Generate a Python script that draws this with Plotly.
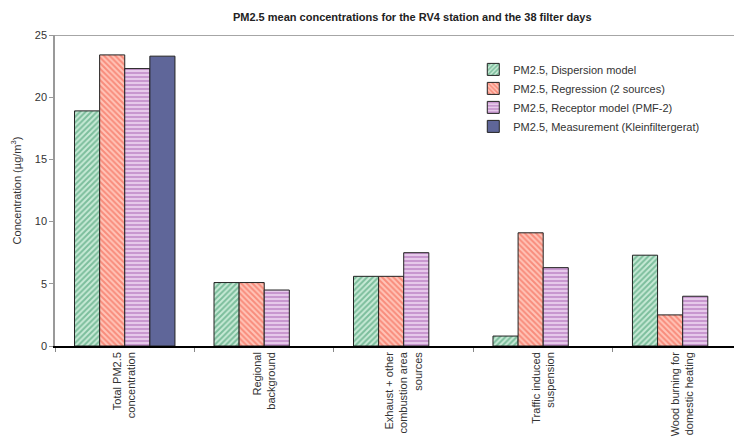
import plotly.graph_objects as go

categories = ["Total PM2.5<br>concentration", "Regional<br>background",
              "Exhaust + other<br>combustion area<br>sources", "Traffic induced<br>suspension",
              "Wood burning for<br>domestic heating"]
dispersion = [18.9, 5.1, 5.6, 0.8, 7.3]
regression = [23.4, 5.1, 5.6, 9.1, 2.5]
receptor = [22.3, 4.5, 7.5, 6.3, 4.0]
measurement = [23.3, None, None, None, None]
series_names = ["PM2.5, Dispersion model", "PM2.5, Regression (2 sources)",
                "PM2.5, Receptor model (PMF-2)", "PM2.5, Measurement (Kleinfiltergerat)"]
yticks = [0, 5, 10, 15, 20, 25]

fig = go.Figure()
fig.add_bar(x=categories, y=dispersion, name=series_names[0],
            marker=dict(color="#bfe3cf", line=dict(color="#222", width=1),
                        pattern=dict(shape="/", fgcolor="#2f9162", bgcolor="#c8ead6", size=4, solidity=0.5)))
fig.add_bar(x=categories, y=regression, name=series_names[1],
            marker=dict(color="#ffc0b4", line=dict(color="#222", width=1),
                        pattern=dict(shape="\\", fgcolor="#f2543f", bgcolor="#ffc4b8", size=4, solidity=0.5)))
fig.add_bar(x=categories, y=receptor, name=series_names[2],
            marker=dict(color="#d8b0df", line=dict(color="#222", width=1),
                        pattern=dict(shape="-", fgcolor="#9c4aa8", bgcolor="#e6c9ea", size=4, solidity=0.4)))
fig.add_bar(x=categories, y=measurement, name=series_names[3],
            marker=dict(color="#5f6699", line=dict(color="#222", width=1)))

fig.add_shape(type="line", xref="paper", x0=0, x1=1, yref="y", y0=25, y1=25,
              line=dict(color="#888", width=1.5))

fig.update_layout(
    width=750, height=442,
    barmode="group", bargap=0.28, bargroupgap=0,
    paper_bgcolor="white", plot_bgcolor="white",
    margin=dict(l=47, r=0, t=27, b=104, autoexpand=False),
    font=dict(family="Liberation Sans, Arial, sans-serif", size=11, color="#222"),
    title=dict(text="<b>PM2.5 mean concentrations for the RV4 station and the 38 filter days</b>",
               x=0.539, xanchor="center", y=0.98, yanchor="middle",
               font=dict(size=11, color="#222"), automargin=False),
    legend=dict(x=0.595, y=0.936, xanchor="left", yanchor="top", bgcolor="rgba(0,0,0,0)",
                font=dict(size=11, color="#333"), tracegroupgap=0, itemwidth=30),
    showlegend=True,
)
fig.update_xaxes(range=[-0.5, 4.54], showline=True, linecolor="#000", linewidth=1.5, ticks="outside",
                 tickson="boundaries", ticklen=4, tickcolor="#888", tickangle=-90,
                 tickfont=dict(size=11, color="#333"), showgrid=False, automargin=False)
fig.update_yaxes(range=[0, 25], tickvals=yticks, showline=True, linecolor="#999", linewidth=1.5,
                 ticks="outside", ticklen=4, tickcolor="#999", showgrid=False, zeroline=False,
                 title=dict(text="Concentration (µg/m<sup>3</sup>)", font=dict(size=11, color="#333"), standoff=11),
                 tickfont=dict(size=11, color="#333"), automargin=False)

fig.write_html("out.html")
